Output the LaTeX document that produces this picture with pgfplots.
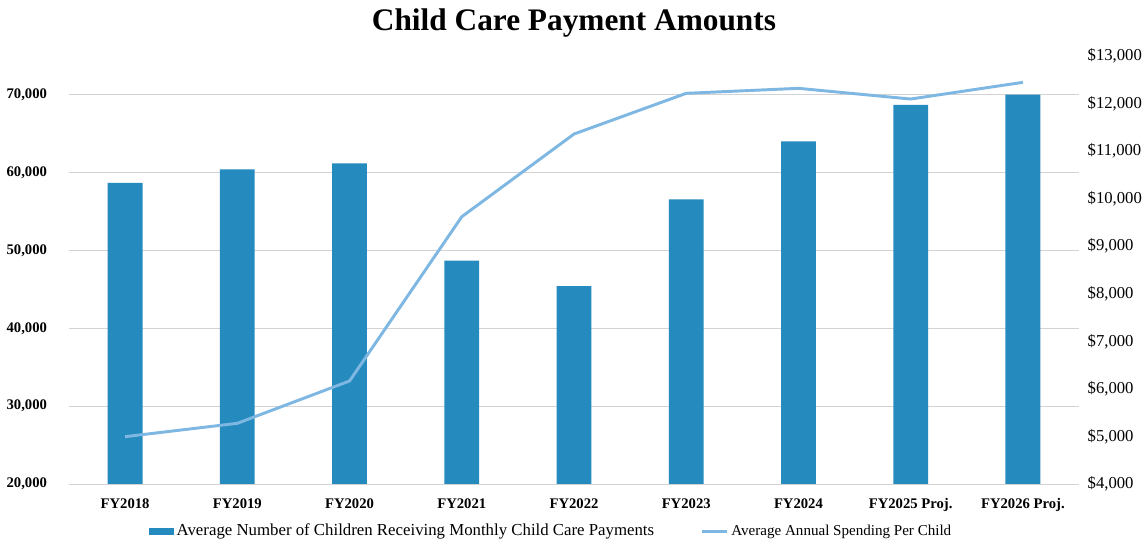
\documentclass[border=0pt]{standalone}
\usepackage{pgfplots}
\pgfplotsset{compat=1.18}
\usepackage{fontspec}
\setmainfont{Liberation Serif}

\definecolor{barblue}{HTML}{258BBF}
\definecolor{lineblue}{HTML}{7EB7E2}
\definecolor{gridgray}{HTML}{D3D3D3}

\begin{document}
\begin{tikzpicture}
\pgfplotsset{
  every axis/.append style={
    scale only axis, width=757.5pt, height=321pt,
    xmin=-0.5, xmax=8.5,
    /pgf/number format/assume math mode=true,
    major tick length=0pt,
    axis line style={draw=none},
    ticklabel style={font=\bfseries\fontsize{11}{13}\selectfont},
  }
}
\begin{axis}[
  ymin=20000, ymax=75000,
  ytick={20000,30000,40000,50000,60000,70000},
  scaled y ticks=false,
  yticklabel={\pgfmathprintnumber[fixed,1000 sep={,}]{\tick}},
  yticklabel style={anchor=east},
  yticklabel shift=13pt,
  ymajorgrids, grid style={gridgray, line width=0.7pt},
  xtick={0,1,2,3,4,5,6,7,8},
  xticklabels={FY2018,FY2019,FY2020,FY2021,FY2022,FY2023,FY2024,FY2025 Proj.,FY2026 Proj.},
  xticklabel shift=7.5pt,
  legend style={at={(0.4777,-0.11)}, anchor=center, draw=none, fill=none,
    legend columns=2,
    /tikz/every even column/.append style={column sep=33pt}},
  clip=false,
]
\addplot[ybar, bar width=0.31, fill=barblue, draw=none,
  legend image code/.code={\fill[barblue] (0pt,-2.6pt) rectangle (18.75pt,2.6pt);}]
  coordinates {(0,58710)(1,60420)(2,61200)(3,48710)(4,45440)(5,56590)(6,64020)(7,68710)(8,70040)};
\addlegendentry{\fontsize{12.6}{14}\selectfont Average Number of Children Receiving Monthly Child Care Payments}
\addlegendimage{lineblue, line width=2.2pt, legend image code/.code={\draw[lineblue, line width=2.2pt] (0pt,0pt) -- (18.75pt,0pt);}}
\addlegendentry{\fontsize{11.3}{14}\selectfont Average Annual Spending Per Child}
\coordinate (sw) at (rel axis cs:0,0);
\coordinate (ne) at (rel axis cs:1,1);
\node[font=\bfseries\fontsize{23.5}{28}\selectfont] at ([yshift=25pt]rel axis cs:0.5,1) {Child Care Payment Amounts};
\end{axis}
\begin{axis}[
  axis y line*=right, axis x line=none,
  ymin=4000, ymax=13000,
  ytick={4000,5000,6000,7000,8000,9000,10000,11000,12000,13000},
  scaled y ticks=false,
  yticklabel={\$\pgfmathprintnumber[fixed,1000 sep={,}]{\tick}},
  yticklabel style={font=\fontsize{12.5}{14}\selectfont},
  yticklabel shift=3pt,
]
\addplot[lineblue, line width=2.2pt, line join=round]
  coordinates {(0,4995)(1,5276)(2,6166)(3,9620)(4,11359)(5,12215)(6,12320)(7,12095)(8,12446)};
\end{axis}
\pgfresetboundingbox
\path[use as bounding box] ([shift={(-51.75pt,-45pt)}]sw) rectangle ([shift={(49.5pt,42pt)}]ne);
\end{tikzpicture}
\end{document}
